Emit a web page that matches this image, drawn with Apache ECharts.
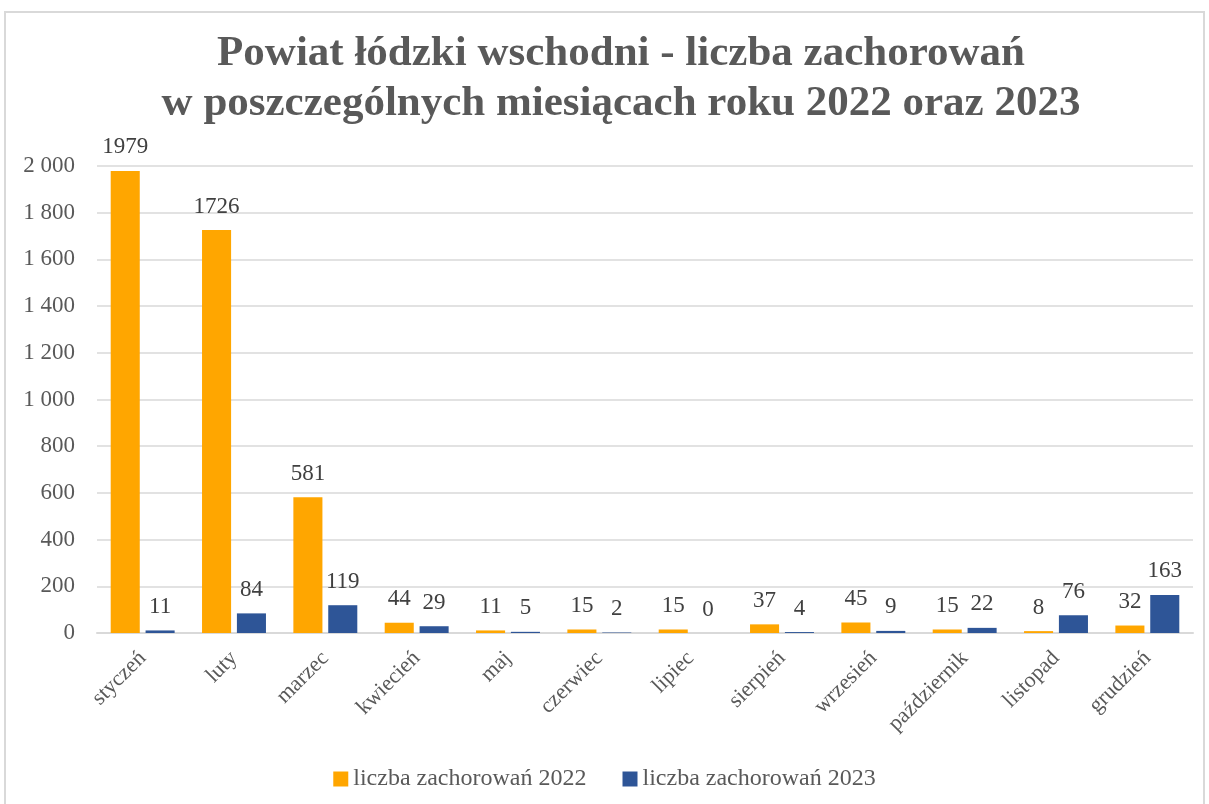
<!DOCTYPE html>
<html>
<head>
<meta charset="utf-8">
<script src="https://cdn.jsdelivr.net/npm/echarts@6.0.0/dist/echarts.min.js"></script>
<style>
  html, body { margin: 0; padding: 0; background: #fff; }
  #frame { position: absolute; left: 4px; top: 11px; width: 1201px; height: 800px; border: 2px solid #d9d9d9; border-bottom: none; box-sizing: border-box; }
  #chart { position: absolute; left: 0; top: 0; width: 1209px; height: 804px; }
</style>
</head>
<body>
<div id="frame"></div>
<div id="chart"></div>
<script>
// dane
const months = ['styczeń', 'luty', 'marzec', 'kwiecień', 'maj', 'czerwiec', 'lipiec', 'sierpień', 'wrzesień', 'październik', 'listopad', 'grudzień'];
const cases2022 = [1979, 1726, 581, 44, 11, 15, 15, 37, 45, 15, 8, 32];
const cases2023 = [11, 84, 119, 29, 5, 2, 0, 4, 9, 22, 76, 163];
const seriesNames = ['liczba zachorowań 2022', 'liczba zachorowań 2023'];

const FONT = '"Liberation Serif", "DejaVu Serif", serif';
const TXT = '#595959';

// "2 000" – spacja jako separator tysięcy
const fmt = (v) => String(v).replace(/\B(?=(\d{3})+(?!\d))/g, ' ');

const chart = echarts.init(document.getElementById('chart'), null, { renderer: 'canvas' });

const barLabel = { show: true, position: 'top', distance: 12, color: '#404040', fontFamily: FONT, fontSize: 23 };

chart.setOption({
  animation: false,
  title: {
    text: 'Powiat łódzki wschodni - liczba zachorowań\nw poszczególnych miesiącach roku 2022 oraz 2023',
    left: 616, top: 24, textAlign: 'center',   // środek tytułu lekko w prawo, jak w oryginale
    textStyle: { fontFamily: FONT, fontWeight: 'bold', fontSize: 43, color: TXT, lineHeight: 50 },
  },
  legend: {
    bottom: 8, left: 'center',
    itemWidth: 15, itemHeight: 15, itemGap: 36,
    icon: 'rect',
    textStyle: { fontFamily: FONT, fontSize: 24, color: TXT },
    data: seriesNames,
  },
  grid: { left: 97, right: 16, top: 166, bottom: 171 },
  xAxis: {
    type: 'category',
    data: months,
    axisLine: { lineStyle: { color: '#d9d9d9', width: 2 } },
    axisTick: { show: false },
    axisLabel: { rotate: 45, margin: 22, color: TXT, fontFamily: FONT, fontSize: 22 },
  },
  yAxis: {
    type: 'value', min: 0, max: 2000, interval: 200,
    axisLine: { show: false },
    axisTick: { show: false },
    splitLine: { lineStyle: { color: '#d9d9d9', width: 1.5 } },
    axisLabel: { formatter: fmt, margin: 22, color: TXT, fontFamily: FONT, fontSize: 23 },
  },
  series: [
    { name: seriesNames[0], type: 'bar', data: cases2022, itemStyle: { color: '#FFA600' }, barGap: '20%', barCategoryGap: '30%', label: barLabel },
    { name: seriesNames[1], type: 'bar', data: cases2023, itemStyle: { color: '#2E5597' }, label: barLabel },
  ],
});
</script>
</body>
</html>
